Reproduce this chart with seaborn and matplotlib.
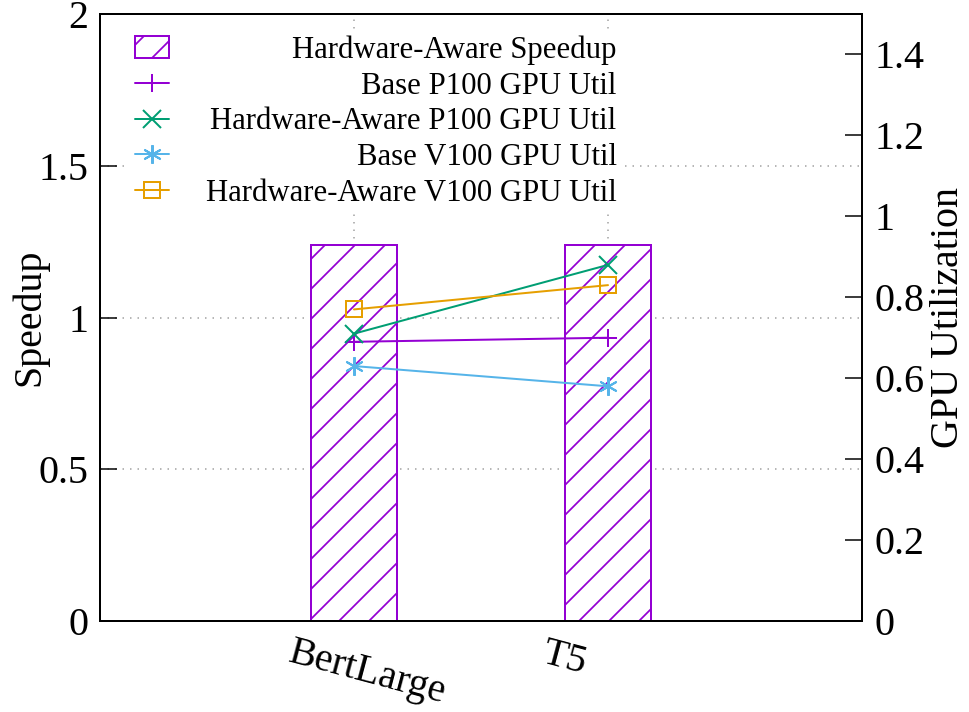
import numpy as np
import pandas as pd
import matplotlib
matplotlib.use('Agg')
import matplotlib.pyplot as plt
import matplotlib.transforms as mtransforms
import seaborn as sns

# data
models = ['BertLarge', 'T5']
hw_speedup = [1.24, 1.24]
base_p100 = [0.69, 0.70]
hw_p100 = [0.71, 0.88]
base_v100 = [0.63, 0.58]
hw_v100 = [0.77, 0.83]

util_names = ['Base P100 GPU Util', 'Hardware-Aware P100 GPU Util',
              'Base V100 GPU Util', 'Hardware-Aware V100 GPU Util']
util_vals = [base_p100, hw_p100, base_v100, hw_v100]
colors = ['#9400d3', '#009e73', '#56b4e9', '#e69f00']
markers = ['+', 'x', (6, 2, 0), 's']
msizes = [7.5, 7, 7.5, 6.5]

sns.set_style('ticks')
plt.rcParams['font.family'] = ['Liberation Serif', 'DejaVu Serif']
plt.rcParams['hatch.linewidth'] = 0.7
plt.rcParams['axes.linewidth'] = 0.8
plt.rcParams['axes.edgecolor'] = 'black'
plt.rcParams['text.color'] = 'black'
plt.rcParams['axes.labelcolor'] = 'black'
plt.rcParams['xtick.color'] = 'black'
plt.rcParams['ytick.color'] = 'black'

DPI = 180
fig = plt.figure(figsize=(969 / DPI, 712 / DPI), dpi=DPI)
ax = fig.add_axes([100 / 969, 91 / 712, 762 / 969, 607 / 712])

df = pd.DataFrame({'model': models, 'speedup': hw_speedup})
sns.barplot(data=df, x='model', y='speedup', ax=ax, width=0.335, color='white',
            saturation=1, edgecolor=colors[0], linewidth=0.8, hatch='//',
            label='Hardware-Aware Speedup', zorder=2)
if ax.get_legend() is not None:
    ax.get_legend().remove()

ax.set_xlim(-1, 2)
ax.set_ylim(0, 2)
ax.set_yticks([0, 0.5, 1, 1.5, 2])
ax.set_yticklabels(['0', '0.5', '1', '1.5', '2'])
ax.set_xticks(range(len(models)))
ax.set_xticklabels(models, rotation=-15, ha='left', rotation_mode='anchor')
ax.set_xlabel('')
ax.set_ylabel('Speedup', fontsize=16, labelpad=-4)
ax.grid(True, color='#a0a0a0', lw=0.6, ls=(0, (1, 4)))
ax.set_axisbelow(True)
ax.tick_params(axis='y', direction='in', length=6.8, width=0.6, labelsize=16, pad=4.5)
ax.tick_params(axis='x', length=0, labelsize=16, pad=5.5)
for lbl in ax.get_xticklabels():
    lbl.set_transform(lbl.get_transform() +
                      mtransforms.ScaledTranslation(-60 / DPI, 0, fig.dpi_scale_trans))

ax2 = ax.twinx()
pos = np.arange(len(models))
for name, vals, c, m, ms in zip(util_names, util_vals, colors, markers, msizes):
    sns.lineplot(x=pos, y=vals, ax=ax2, color=c, marker=m, ms=ms, mec=c, mfc='none',
                 mew=0.8, lw=0.8, label=name, legend=False)
ax2.set_ylim(0, 1.5)
yt = [0, 0.2, 0.4, 0.6, 0.8, 1.0, 1.2, 1.4]
ax2.set_yticks(yt)
ax2.set_yticklabels(['0', '0.2', '0.4', '0.6', '0.8', '1', '1.2', '1.4'])
ax2.set_ylabel('GPU Utilization', fontsize=16, labelpad=2)
ax2.tick_params(axis='y', direction='in', length=6.8, width=0.6, labelsize=16, pad=5)
ax2.grid(False)

h1, l1 = ax.get_legend_handles_labels()
h2, l2 = ax2.get_legend_handles_labels()
leg = ax2.legend(h1 + h2, l1 + l2, loc='upper left', bbox_to_anchor=(0.038, 0.975),
                 borderaxespad=0, borderpad=0.2, fontsize=12.3, handlelength=1.1,
                 handletextpad=1.2, labelspacing=0.22, frameon=True, fancybox=False,
                 framealpha=1, facecolor='white', edgecolor='none')

# right-align the legend texts like gnuplot does
fig.canvas.draw()
renderer = fig.canvas.get_renderer()
texts = leg.get_texts()
widths = [t.get_window_extent(renderer).width for t in texts]
wmax = max(widths)
for t, w in zip(texts, widths):
    t.set_position((wmax - w, 0))

fig.savefig('out.png', dpi=DPI)
